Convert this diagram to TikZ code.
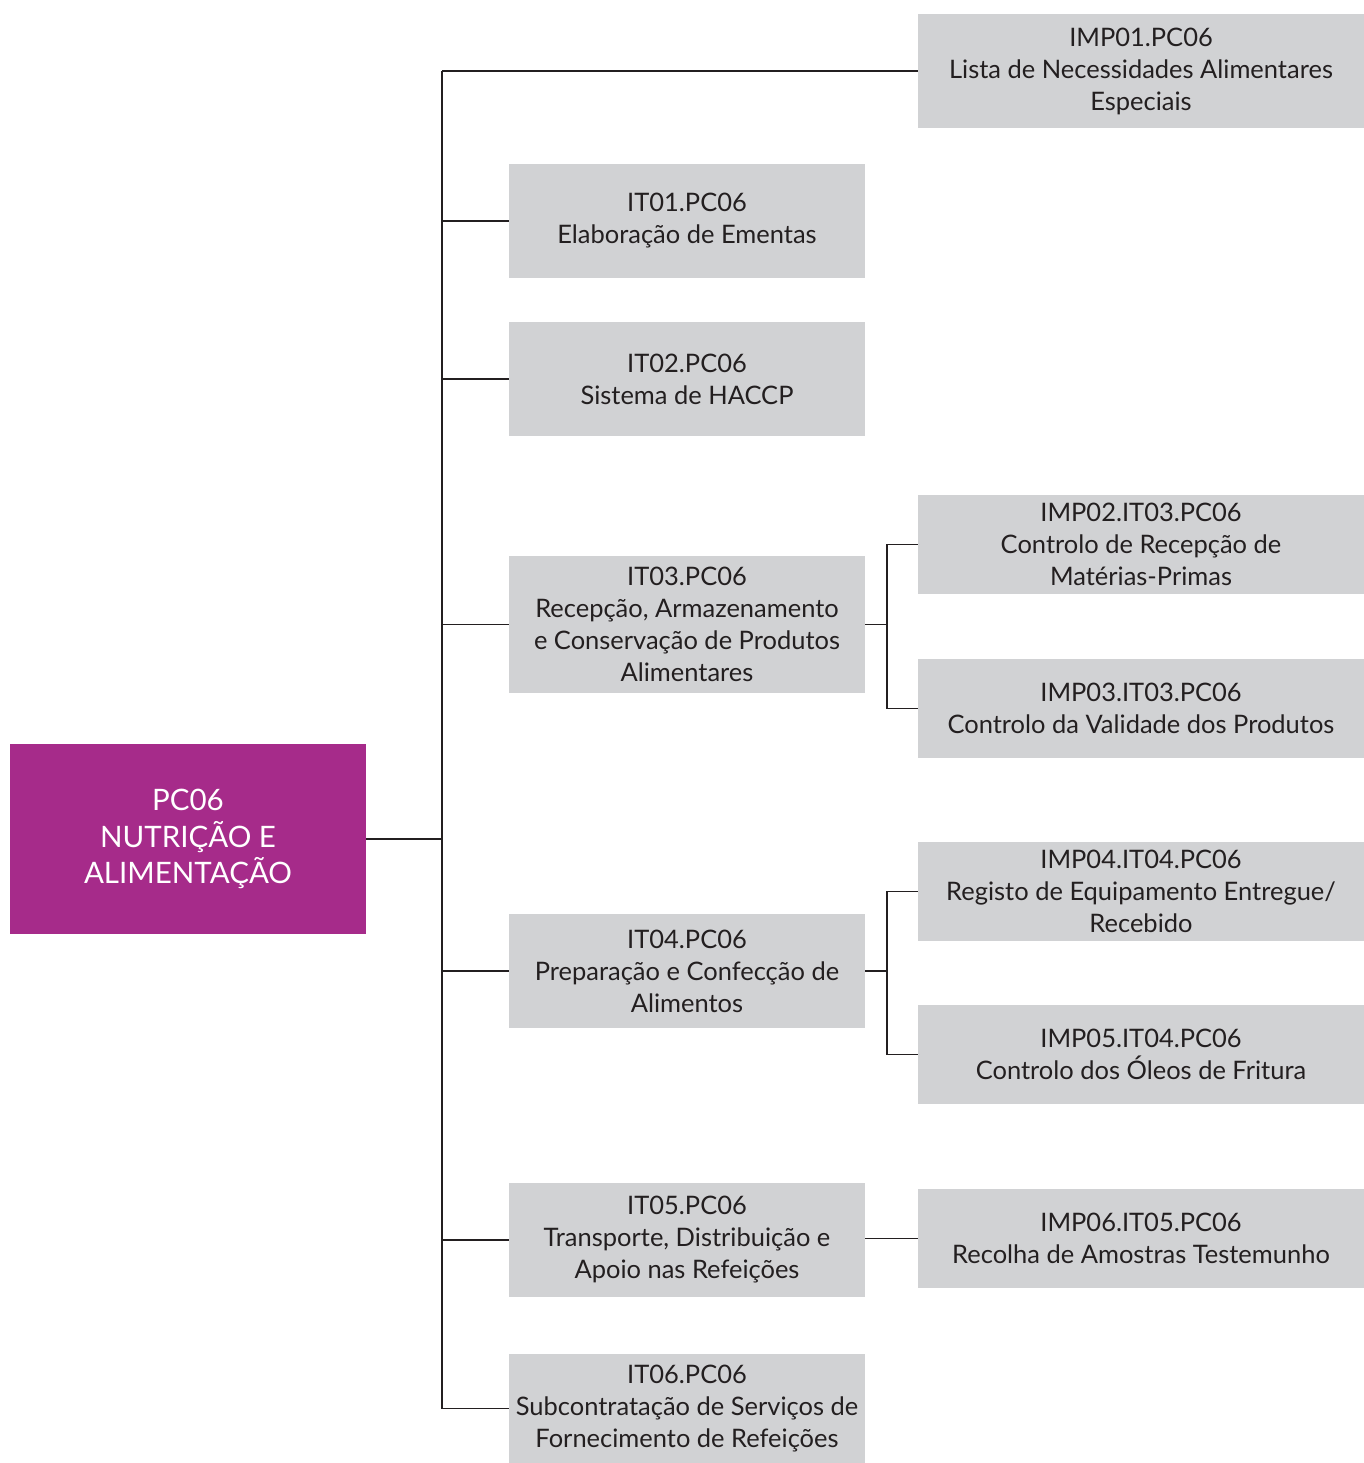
\documentclass[tikz,border=0pt]{standalone}
\usepackage{fontspec}
\setmainfont{Lato}
\usetikzlibrary{positioning}
\definecolor{boxgray}{HTML}{D1D2D4}
\definecolor{rootpurple}{HTML}{A62B8A}
\definecolor{inkgray}{HTML}{231F20}

\begin{document}
\begin{tikzpicture}[x=0.02cm,y=-0.02cm,
  font=\fontsize{14.5}{18.2}\selectfont, text=inkgray,
  itbox/.style={fill=boxgray, minimum width=7.12cm, minimum height=2.28cm, align=center, inner sep=0pt},
  impbox/.style={fill=boxgray, minimum width=8.92cm, minimum height=1.98cm, align=center, inner sep=0pt},
  link/.style={draw=inkgray, line width=0.9pt}]
  \useasboundingbox (0,0) rectangle (1364,1463);
  % root
  \node[fill=rootpurple, text=white, minimum width=7.12cm, minimum height=3.8cm, align=center,
        font=\fontsize{16.8}{21}\selectfont] (root) at (188,839) {PC06\\NUTRIÇÃO E\\ALIMENTAÇÃO};
  % instrucoes de trabalho
  \node[itbox] (it01) at (687,221) {IT01.PC06\\Elaboração de Ementas};
  \node[itbox] (it02) at (687,379) {IT02.PC06\\Sistema de HACCP};
  \node[itbox, minimum height=2.74cm] (it03) at (687,624.5) {IT03.PC06\\Recepção, Armazenamento\\e Conservação de Produtos\\Alimentares};
  \node[itbox] (it04) at (687,971) {IT04.PC06\\Preparação e Confecção de\\Alimentos};
  \node[itbox] (it05) at (687,1240) {IT05.PC06\\Transporte, Distribuição e\\Apoio nas Refeições};
  \node[itbox, minimum height=2.18cm] (it06) at (687,1408.5) {IT06.PC06\\Subcontratação de Serviços de\\Fornecimento de Refeições};
  % impressos
  \node[impbox, minimum height=2.28cm] (imp01) at (1141,71) {IMP01.PC06\\Lista de Necessidades Alimentares\\Especiais};
  \node[impbox] (imp02) at (1141,544.5) {IMP02.IT03.PC06\\Controlo de Recepção de\\Matérias-Primas};
  \node[impbox] (imp03) at (1141,708.5) {IMP03.IT03.PC06\\Controlo da Validade dos Produtos};
  \node[impbox] (imp04) at (1141,891.5) {IMP04.IT04.PC06\\Registo de Equipamento Entregue/\\Recebido};
  \node[impbox] (imp05) at (1141,1054.5) {IMP05.IT04.PC06\\Controlo dos Óleos de Fritura};
  \node[impbox] (imp06) at (1141,1238.5) {IMP06.IT05.PC06\\Recolha de Amostras Testemunho};
  % trunk
  \coordinate (trunk) at (442,0);
  \coordinate (fork) at (887,0);
  \draw[link] (imp01.west -| trunk) -- (it06.west -| trunk);
  \draw[link] (root.east) -- (root.east -| trunk);
  \foreach \n in {imp01,it01,it02,it03,it04,it05,it06}
    \draw[link] (\n.west) -- (\n.west -| trunk);
  % sub branches
  \draw[link] (it03.east) -- (it03.east -| fork);
  \draw[link] (imp02.west) -- (imp02.west -| fork) -- (imp03.west -| fork) -- (imp03.west);
  \draw[link] (it04.east) -- (it04.east -| fork);
  \draw[link] (imp04.west) -- (imp04.west -| fork) -- (imp05.west -| fork) -- (imp05.west);
  \draw[link] (imp06.west -| it05.east) -- (imp06.west);
\end{tikzpicture}
\end{document}
